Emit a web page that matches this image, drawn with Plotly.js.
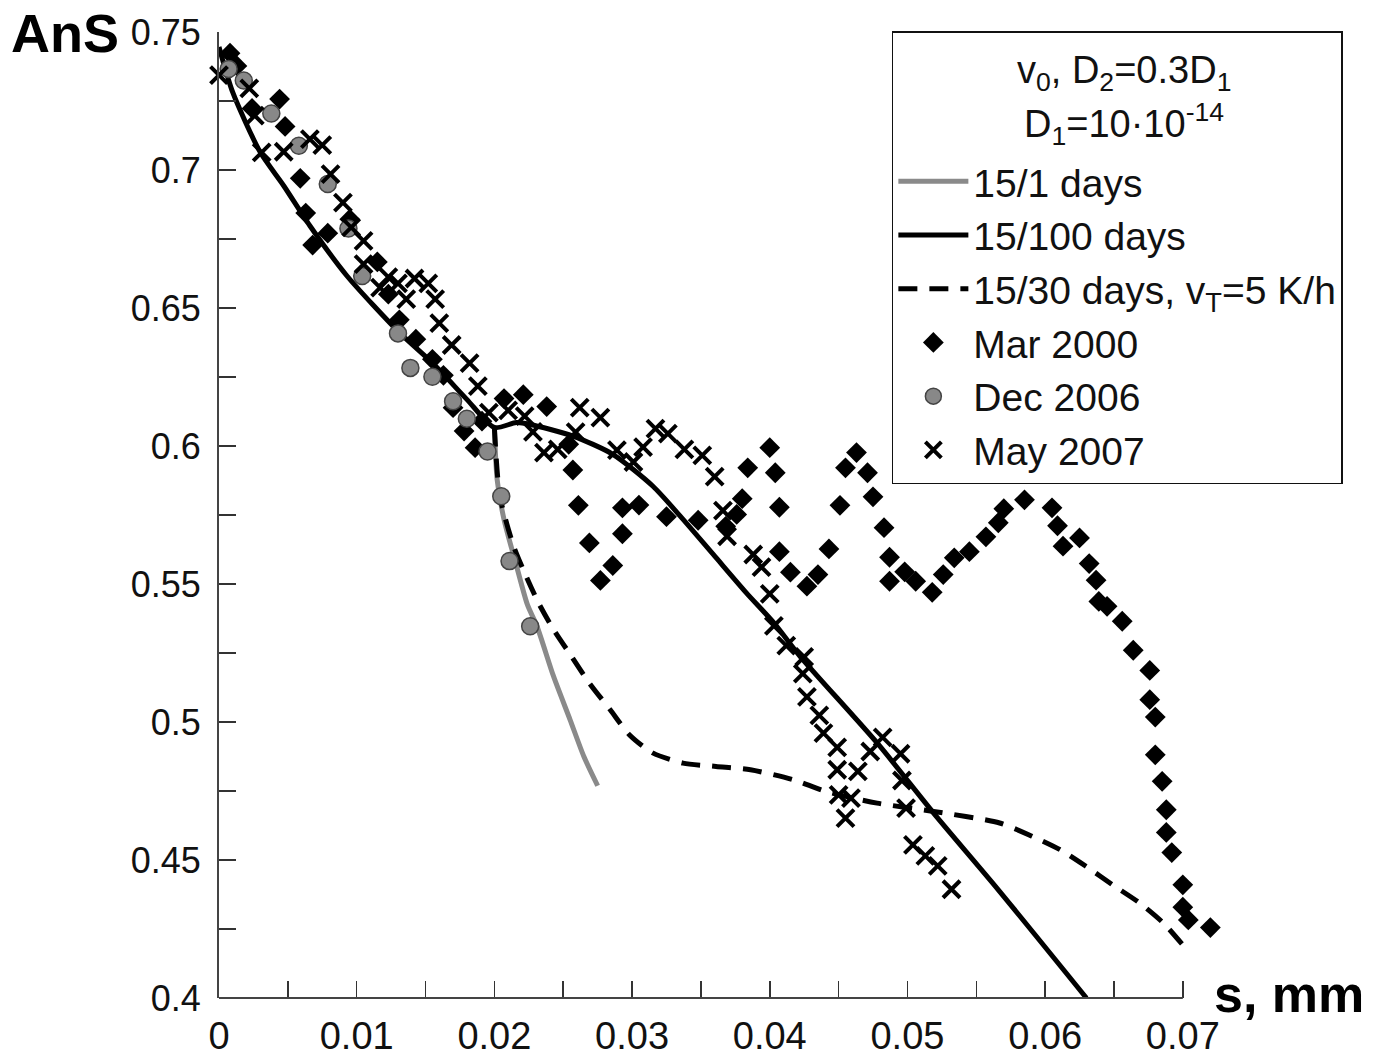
<!DOCTYPE html>
<html>
<head>
<meta charset="utf-8">
<script src="https://cdn.plot.ly/plotly-3.0.1.min.js"></script>
<style>html,body{margin:0;padding:0;background:#fff;}#chart{width:1384px;height:1057px;}</style>
</head>
<body>
<div id="chart"></div>
<script>
// ---- Data ----
const marX = [0.0008,0.0013,0.0024,0.0044,0.0048,0.0059,0.0063,0.0068,0.0079,0.0095,0.0115,0.0123,0.0131,0.0143,0.0155,0.0163,0.0170,0.0178,0.0186,0.0191,0.0207,0.0221,0.0238,0.0254,0.0257,0.0261,0.0269,0.0277,0.0286,0.0293,0.0293,0.0305,0.0325,0.0348,0.0368,0.0376,0.0380,0.0384,0.0400,0.0404,0.0407,0.0407,0.0415,0.0427,0.0435,0.0443,0.0451,0.0455,0.0463,0.0471,0.0475,0.0483,0.0487,0.0487,0.0498,0.0506,0.0518,0.0526,0.0534,0.0545,0.0557,0.0566,0.0570,0.0585,0.0605,0.0609,0.0613,0.0625,0.0632,0.0637,0.0639,0.0645,0.0656,0.0664,0.0676,0.0676,0.0680,0.0680,0.0685,0.0688,0.0688,0.0692,0.0700,0.0700,0.0704,0.0720];
const marY = [0.7423,0.7377,0.7223,0.7257,0.7158,0.6970,0.6844,0.6728,0.6771,0.6822,0.6667,0.6550,0.6457,0.6387,0.6314,0.6256,0.6139,0.6054,0.5994,0.6090,0.6172,0.6186,0.6143,0.6006,0.5913,0.5785,0.5649,0.5513,0.5567,0.5682,0.5776,0.5786,0.5744,0.5731,0.5709,0.5752,0.5809,0.5921,0.5994,0.5903,0.5778,0.5617,0.5543,0.5492,0.5534,0.5627,0.5785,0.5921,0.5976,0.5903,0.5816,0.5704,0.5597,0.5510,0.5544,0.5510,0.5470,0.5534,0.5595,0.5617,0.5671,0.5722,0.5773,0.5805,0.5776,0.5711,0.5637,0.5667,0.5574,0.5514,0.5437,0.5419,0.5365,0.5260,0.5187,0.5081,0.5018,0.4881,0.4785,0.4682,0.4600,0.4527,0.4410,0.4329,0.4283,0.4255];

const decX = [0.0007,0.0018,0.0038,0.0058,0.0079,0.0094,0.0104,0.0130,0.0139,0.0155,0.0170,0.0180,0.0195,0.0205,0.0211,0.0226];
const decY = [0.7366,0.7324,0.7205,0.7088,0.6949,0.6788,0.6616,0.6408,0.6283,0.6251,0.6162,0.6099,0.5980,0.5818,0.5583,0.5347];

const mayX = [0.0000,0.0022,0.0026,0.0031,0.0047,0.0066,0.0075,0.0081,0.0090,0.0096,0.0105,0.0105,0.0117,0.0123,0.0130,0.0136,0.0142,0.0152,0.0157,0.0160,0.0169,0.0182,0.0188,0.0196,0.0210,0.0222,0.0228,0.0236,0.0246,0.0259,0.0262,0.0277,0.0289,0.0301,0.0308,0.0317,0.0326,0.0338,0.0351,0.0360,0.0366,0.0369,0.0388,0.0394,0.0400,0.0403,0.0412,0.0425,0.0424,0.0427,0.0436,0.0439,0.0449,0.0449,0.0464,0.0450,0.0459,0.0455,0.0473,0.0482,0.0495,0.0496,0.0499,0.0504,0.0513,0.0522,0.0532];
const mayY = [0.7344,0.7296,0.7197,0.7064,0.7066,0.7112,0.7090,0.6985,0.6882,0.6792,0.6743,0.6659,0.6574,0.6612,0.6589,0.6532,0.6607,0.6589,0.6532,0.6445,0.6366,0.6300,0.6217,0.6121,0.6129,0.6108,0.6051,0.5976,0.5988,0.6050,0.6139,0.6103,0.5985,0.5942,0.5996,0.6063,0.6045,0.5988,0.5966,0.5889,0.5766,0.5673,0.5607,0.5561,0.5464,0.5348,0.5277,0.5236,0.5175,0.5091,0.5024,0.4960,0.4908,0.4827,0.4821,0.4736,0.4724,0.4652,0.4893,0.4944,0.4885,0.4788,0.4688,0.4555,0.4515,0.4479,0.4394];

const l100X = [0,0.0010,0.0030,0.0047,0.0066,0.0093,0.0131,0.0156,0.0180,0.0200,0.0216,0.0226,0.0257,0.0286,0.0315,0.0335,0.0359,0.0383,0.0403,0.0422,0.0478,0.0519,0.0566,0.0630];
const l100Y = [0.7446,0.7281,0.7064,0.6943,0.6798,0.6616,0.6411,0.6296,0.6169,0.6067,0.6085,0.6078,0.6036,0.5970,0.5855,0.5746,0.5607,0.5468,0.5359,0.5238,0.4924,0.4670,0.4392,0.4000];

const l1X = [0.0200,0.0202,0.0207,0.0216,0.0224,0.0231,0.0243,0.0255,0.0265,0.0275];
const l1Y = [0.6067,0.5879,0.5734,0.5567,0.5425,0.5346,0.5165,0.5008,0.4875,0.4769];

const l30X = [0.0200,0.0204,0.0214,0.0221,0.0232,0.0243,0.0256,0.0269,0.0284,0.0298,0.0315,0.0337,0.0361,0.0386,0.0417,0.0441,0.0478,0.0519,0.0567,0.0591,0.0611,0.0630,0.0649,0.0669,0.0686,0.0700];
const l30Y = [0.6067,0.5818,0.5637,0.5552,0.5432,0.5335,0.5238,0.5141,0.5045,0.4954,0.4888,0.4851,0.4839,0.4827,0.4791,0.4748,0.4706,0.4676,0.4634,0.4585,0.4537,0.4476,0.4410,0.4343,0.4271,0.4192];

const xTickVals = [0,0.01,0.02,0.03,0.04,0.05,0.06,0.07];
const xTickText = ['0','0.01','0.02','0.03','0.04','0.05','0.06','0.07'];
const yTickVals = [0.4,0.45,0.5,0.55,0.6,0.65,0.7,0.75];
const yTickText = ['0.4','0.45','0.5','0.55','0.6','0.65','0.7','0.75'];

const seriesNames = ['15/1 days','15/100 days','15/30 days, v<sub>T</sub>=5 K/h','Mar 2000','Dec 2006','May 2007'];
const headerLine1 = 'v<sub>0</sub>, D<sub>2</sub>=0.3D<sub>1</sub>';
const headerLine2 = 'D<sub>1</sub>=10·10<sup>-14</sup>';
const xTitle = '<b>s, mm</b>';
const yTitle = '<b>AnS</b>';

// ---- Traces ----
const FONT = 'Liberation Sans, Arial, Helvetica, sans-serif';
const traces = [
  {x:l1X, y:l1Y, mode:'lines', name:seriesNames[0], legendgroup:'a',
   line:{color:'#8a8a8a', width:5, shape:'spline', smoothing:0.7}},
  {x:l100X, y:l100Y, mode:'lines', name:seriesNames[1], legendgroup:'b',
   line:{color:'#000', width:5, shape:'spline', smoothing:0.7}},
  {x:l30X, y:l30Y, mode:'lines', name:seriesNames[2], legendgroup:'c',
   line:{color:'#000', width:5, dash:'19px,12px', shape:'spline', smoothing:0.7}},
  {x:marX, y:marY, mode:'markers', name:seriesNames[3], legendgroup:'d', cliponaxis:false,
   marker:{symbol:'diamond', size:16, color:'#000'}},
  {x:decX, y:decY, mode:'markers', name:seriesNames[4], legendgroup:'e', cliponaxis:false,
   marker:{symbol:'circle', size:17, color:'#888', line:{color:'#444', width:1.5}}},
  {x:mayX, y:mayY, mode:'markers', name:seriesNames[5], legendgroup:'f', cliponaxis:false,
   marker:{symbol:'x-thin-open', size:17, color:'#000', line:{color:'#000', width:4}}}
];

// plot geometry: 0..0.07 spans 964 px; range is extended a little so the
// last Mar 2000 points beyond 0.07 stay visible (as in the reference)
const xMax = 0.0735;
const plotW = 964 * xMax / 0.07;   // ~1012 px
const L = 219, T = 32, B = 59;
const R = 1384 - L - plotW;
const px = v => (v - L) / plotW;           // pixel x -> paper x
const py = v => (1057 - B - v) / (1057 - T - B); // pixel y -> paper y

const tickStyle = {ticks:'inside', ticklen:17, tickwidth:1.5, tickcolor:'#333'};

const layout = {
  width:1384, height:1057,
  margin:{l:L, r:R, t:T, b:B},
  paper_bgcolor:'#fff', plot_bgcolor:'#fff',
  font:{family:FONT, color:'#111'},
  xaxis:Object.assign({}, tickStyle, {
    range:[0, xMax], showline:false, showgrid:false, zeroline:false,
    tickmode:'array', tickvals:xTickVals, ticktext:xTickText,
    tickfont:{family:FONT, size:38, color:'#111'},
    ticklabelstandoff:12,
    minor:Object.assign({}, tickStyle, {tickmode:'linear', tick0:0, dtick:0.005, showgrid:false})
  }),
  yaxis:Object.assign({}, tickStyle, {
    range:[0.4, 0.75], showline:true, linecolor:'#444', linewidth:2, showgrid:false, zeroline:false,
    tickmode:'array', tickvals:yTickVals, ticktext:yTickText,
    tickfont:{family:FONT, size:36, color:'#111'},
    ticklabelstandoff:9,
    minor:Object.assign({}, tickStyle, {tickmode:'linear', tick0:0.4, dtick:0.025, showgrid:false})
  }),
  shapes:[
    {type:'line', xref:'x', yref:'paper', x0:xTickVals[0], x1:xTickVals[xTickVals.length-1], y0:0, y1:0,
     line:{color:'#444', width:2}}
  ],
  showlegend:true,
  legend:{
    x:px(892), xanchor:'left', y:py(31), yanchor:'top',
    bgcolor:'rgba(255,255,255,0)', bordercolor:'#111', borderwidth:1.5,
    font:{family:FONT, size:39, color:'#111'},
    itemwidth:70, tracegroupgap:0,
    title:{text:'&nbsp;', side:'top', font:{family:FONT, size:90, color:'#fff'}}
  },
  annotations:[
    {text:headerLine1, xref:'paper', yref:'paper', x:px(1124), y:py(73), xanchor:'center', yanchor:'middle',
     showarrow:false, font:{family:FONT, size:38, color:'#111'}},
    {text:headerLine2, xref:'paper', yref:'paper', x:px(1124), y:py(124), xanchor:'center', yanchor:'middle',
     showarrow:false, font:{family:FONT, size:38, color:'#111'}},
    {text:yTitle, xref:'paper', yref:'paper', x:px(65), y:py(33), xanchor:'center', yanchor:'middle',
     showarrow:false, font:{family:FONT, size:54, color:'#000'}},
    {text:xTitle, xref:'paper', yref:'paper', x:px(1289), y:py(994), xanchor:'center', yanchor:'middle',
     showarrow:false, font:{family:FONT, size:52, color:'#000'}}
  ]
};

Plotly.newPlot('chart', traces, layout, {displayModeBar:false, staticPlot:true});
</script>
</body>
</html>
